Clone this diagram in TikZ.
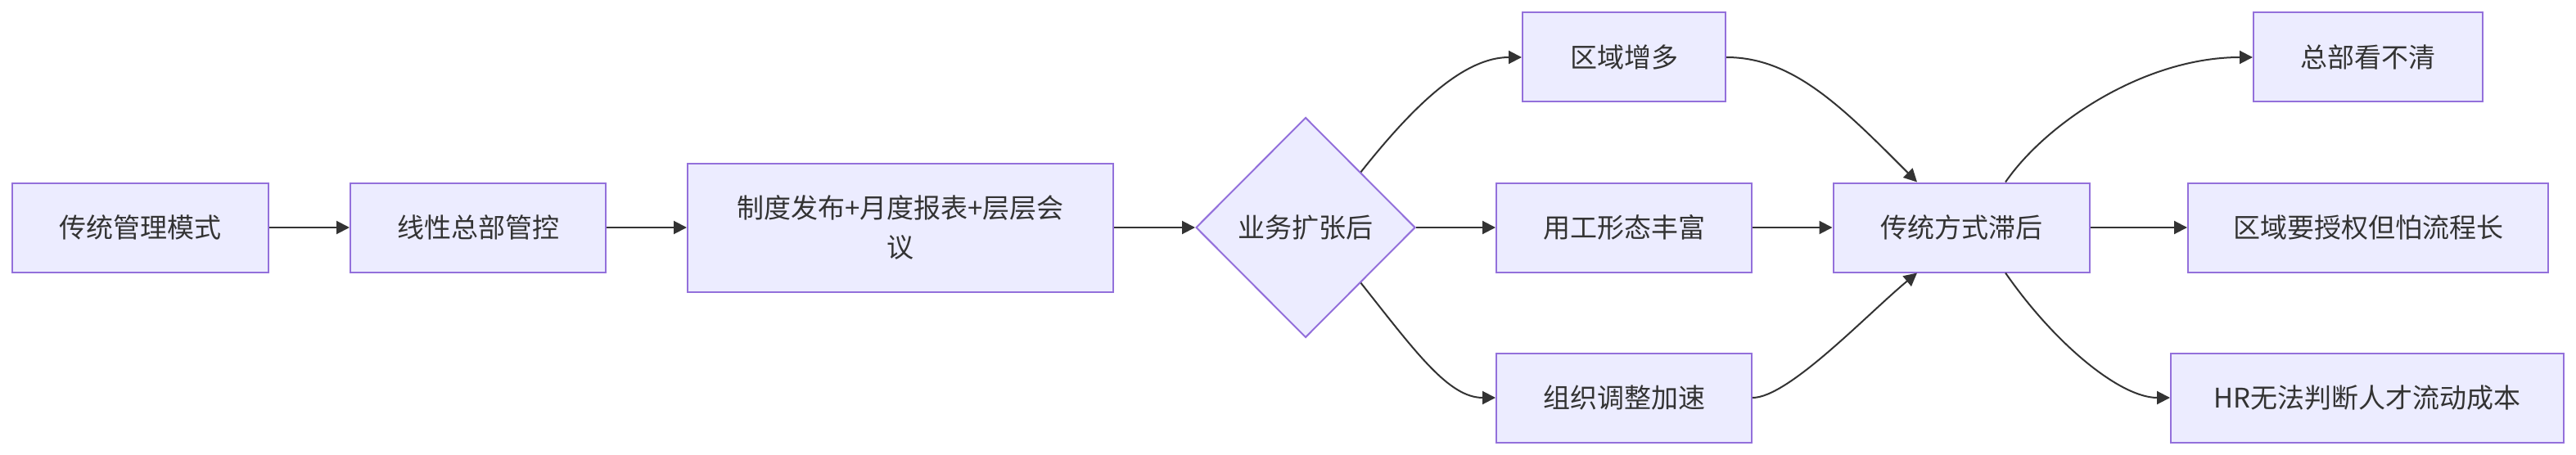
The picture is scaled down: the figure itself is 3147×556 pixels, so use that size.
\documentclass[tikz,border=0pt]{standalone}
\usepackage{fontspec}
\newfontfamily\cjkfont{Noto Sans CJK SC}
\usetikzlibrary{arrows.meta, shapes.geometric}
\definecolor{boxfill}{HTML}{ECECFF}
\definecolor{boxline}{HTML}{9370DB}
\definecolor{edgeline}{HTML}{333333}

\begin{document}
\begin{tikzpicture}[x=0.5pt, y=-0.5pt,
  >={Triangle[length=8pt, width=8pt]},
  flowbox/.style={draw=boxline, line width=1pt, fill=boxfill, minimum height=54.5pt,
    inner sep=0pt, align=center, text=edgeline,
    font=\cjkfont\fontsize{16.5}{24}\selectfont},
  choice/.style={diamond, draw=boxline, line width=1pt, fill=boxfill, aspect=1,
    minimum width=134pt, minimum height=134.5pt, inner sep=0pt, text=edgeline,
    font=\cjkfont\fontsize{16.5}{24}\selectfont},
  arr/.style={->, line width=1pt, edgeline},
]

% Canvas
\useasboundingbox (0,0) rectangle (3147,556);

% =============================================
% Left chain: old way -> expansion
% =============================================
\node[flowbox, minimum width=156.5pt] (oldmode) at (171.5,278) {传统管理模式};
\node[flowbox, minimum width=156pt] (hqctrl) at (584,278) {线性总部管控};
\node[flowbox, minimum width=260pt, minimum height=78.5pt] (routine) at (1100,278)
  {制度发布+月度报表+层层会\\议};
\node[choice] (expand) at (1595,278) {业务扩张后};

\draw[arr] (oldmode.east) -- (hqctrl.west);
\draw[arr] (hqctrl.east) -- (routine.west);
\draw[arr] (routine.east) -- (expand.west);

% =============================================
% Causes
% =============================================
\node[flowbox, minimum width=124pt] (moreregion) at (1984,70) {区域增多};
\node[flowbox, minimum width=156pt] (richemp) at (1984,278) {用工形态丰富};
\node[flowbox, minimum width=156pt] (fastorg) at (1984,486) {组织调整加速};

\draw[arr] (expand.north east) .. controls (1730,125) and (1790,70) .. (moreregion.west);
\draw[arr] (expand.east) -- (richemp.west);
\draw[arr] (expand.south east) .. controls (1730,431) and (1770,486) .. (fastorg.west);

% Lagging
\node[flowbox, minimum width=156.5pt] (lagging) at (2396,278) {传统方式滞后};

\draw[arr] (moreregion.east) .. controls (2190,70) and (2250,130) .. ([xshift=-27pt]lagging.north);
\draw[arr] (richemp.east) -- (lagging.west);
\draw[arr] (fastorg.east) .. controls (2185,486) and (2282,383) .. ([xshift=-27pt]lagging.south);

% =============================================
% Effects
% =============================================
\node[flowbox, minimum width=140pt] (blind) at (2893,70) {总部看不清};
\node[flowbox, minimum width=220pt] (slowauth) at (2893,278) {区域要授权但怕流程长};
\node[flowbox, minimum width=240pt] (hrcost) at (2892,486) {HR无法判断人才流动成本};

\draw[arr] ([xshift=27pt]lagging.north) .. controls (2500,150) and (2620,70) .. (blind.west);
\draw[arr] (lagging.east) -- (slowauth.west);
\draw[arr] ([xshift=27pt]lagging.south) .. controls (2510,420) and (2590,486) .. (hrcost.west);

\end{tikzpicture}
\end{document}
